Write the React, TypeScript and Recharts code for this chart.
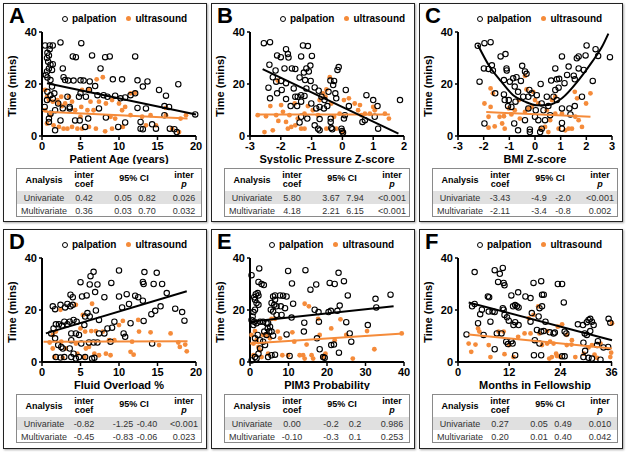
import React from "react";
import { ScatterChart, Scatter, XAxis, YAxis } from "recharts";

const FONT = "Arial, 'Liberation Sans', sans-serif";
const ORANGE = "#F58B3A";

type Pt = { x: number; y: number };
const pts = (arr: number[][]): Pt[] => arr.map(([x, y]) => ({ x, y }));

// ---- A: patient age ----
const agePalpation = [[0.4,34.8],[1.0,34.8],[1.4,34.8],[1.0,33.4],[0.7,32],[0.9,31],[2.4,36],[5.1,35.7],[6.5,31],[4.0,30.6],[4.4,30.3],[8.2,30.3],[8.8,30.6],[12.1,30.6],[7.6,26],[2.7,26],[0.65,30],[0.8,28.6],[1.1,27.4],[1.4,27.6],[0.9,26],[1.3,25.4],[0.65,24.8],[0.5,23.5],[0.7,22.5],[1.1,21.5],[2.8,22.6],[3.0,21.5],[3.4,21.3],[4.1,21.3],[5.0,21.4],[5.4,21.3],[6.2,21],[6.9,19.2],[9.2,21.8],[10.4,21.8],[12.4,21.4],[13.7,21],[13.1,19],[15.2,17.7],[17.7,19.9],[16.1,15.5],[12.4,10.8],[13.5,10.6],[15.9,11.5],[16.5,11.2],[12.8,5.4],[12.8,2.8],[13.1,2.6],[14.3,4.5],[14.8,2.8],[16.6,2.8],[17.2,2.6],[17.5,1.5],[19.9,8.3],[15.9,8],[10.8,5.2],[9.9,3.5],[5.6,3.5],[4.3,6],[4.9,6],[6.0,6.7],[0.9,6.7],[0.35,11.2],[0.65,13.8],[1.4,14.4],[1.7,2.2],[2.1,12.5],[3.3,15.1],[3.6,10.6],[4.8,15.1],[5.0,16.4],[5.7,15.1],[6.1,17.7],[7.2,15.7],[8.0,15.7],[8.5,15.1],[7.4,10.6],[8.3,7.1],[9.5,15.5],[10.2,14.5],[10.8,14.8],[11.5,15.7],[12.1,16.4],[1.3,19],[0.7,17],[1.1,15.7],[1.6,16.4],[2.4,6],[2.7,10.6],[1.7,9.9],[1.1,8.6],[0.9,5.4],[3.6,11.2]];
const ageUltrasound = [[0.4,17.7],[0.65,15.1],[0.9,13.8],[1.4,13.2],[2.0,13.8],[2.2,12.5],[2.6,11.5],[3.0,12.5],[3.9,13.2],[5.2,17.7],[6.1,17.9],[7.1,21.8],[7.9,22.6],[6.3,13.2],[7.4,13.2],[8.3,12.5],[9.1,13.8],[10.0,12.5],[10.8,11.2],[11.5,16.4],[12.1,16.6],[4.3,9.9],[5.1,11.2],[5.9,9.9],[6.7,9.9],[8.9,7.4],[9.5,6.7],[10.4,9.9],[5.0,7.4],[0.65,4.8],[1.5,4.1],[2.2,3.5],[2.8,2.8],[3.3,2.8],[3.9,3.5],[4.6,2.8],[5.2,2.8],[6.1,3.5],[7.0,2.8],[8.2,1.8],[9.1,2.8],[10.5,3.5],[13.5,4.1],[14.8,4.1],[16.9,2.8],[17.8,1.5],[18.7,8.0],[18.0,6.7],[16.1,8.0],[16.1,10.8],[13.0,7.4],[14.1,8.0],[0.4,9.9],[1.1,8.0],[2.5,15.1],[3.5,15.1],[11.5,8.0]];
const ageFitPalpation = [[0.65,20.3],[20,8.3]];
const ageFitUltrasound = [[0.5,9.3],[18.9,6.7]];
const ageStats = [["Univariate","0.42","0.05","0.82","0.026"],["Multivariate","0.36","0.03","0.70","0.032"]];

// ---- B: systolic pressure z-score ----
const sbpPalpation = [[-2.55,35.7],[-2.35,36.1],[-2.12,31],[-2.0,30.3],[-1.83,33.4],[-1.77,31.5],[-1.75,30.2],[-1.88,26],[-1.64,26],[-1.53,25.8],[-1.28,34.8],[-1.12,34.6],[-1.34,30.6],[-0.99,30.8],[-1.17,26],[-1.04,27.1],[-1.25,24.4],[-1.39,22.5],[-1.21,21.5],[-1.03,21.2],[-1.09,24.8],[-2.37,27.4],[-2.4,18.6],[-2.35,14.5],[-2.17,25.2],[-2.26,22.6],[-2.15,20.9],[-1.99,21.2],[-1.83,20.3],[-1.97,17.7],[-2.12,16.4],[-1.58,18.3],[-1.53,15.1],[-1.45,15.1],[-1.34,15.7],[-1.23,15.4],[-1.83,14.2],[-1.68,11.5],[-1.47,11.5],[-1.34,13.2],[-1.17,18.3],[-0.9,18.7],[-0.77,17.4],[-0.68,15.1],[-0.58,13.8],[-0.39,21.3],[-0.27,21.2],[-0.3,19.6],[-0.16,25.4],[-0.12,26.5],[-0.45,17],[-0.23,16.4],[-0.2,14.5],[-1.01,12.5],[-0.85,10.6],[-0.74,11.2],[-0.6,10.6],[-0.49,11.5],[-1.34,7.4],[-1.14,6.7],[-1.39,5.2],[-0.74,6.5],[-0.38,6.7],[-0.38,5.4],[-0.36,3.1],[-0.33,2.6],[-0.9,4.1],[-0.79,2.8],[-0.74,2.2],[-0.03,2.8],[-0.01,1.9],[0.02,1.3],[0.05,6.7],[0.08,8],[0.11,17.7],[0.21,11.5],[0.78,15.7],[1.0,13.8],[1.05,7.4],[1.14,11.5],[1.16,2.8],[0.65,5.4],[0.73,6.1],[1.87,13.8]];
const sbpUltrasound = [[-2.53,1.5],[-2.26,2.2],[-2.48,7.6],[-2.75,8],[-2.34,11.5],[-2.15,8],[-2.08,5.8],[-1.99,11.9],[-1.93,9.3],[-1.83,5.4],[-1.77,2.8],[-1.66,3.5],[-1.72,8],[-1.55,12.5],[-1.45,6.7],[-1.34,2.8],[-1.23,2.8],[-1.53,4.1],[-1.12,11.5],[-1.23,8.6],[-0.74,13.8],[-0.63,16.4],[-0.52,17.9],[-0.41,22.6],[-0.55,15.1],[-0.79,8],[-0.52,2.8],[-0.27,7.4],[-0.2,2.8],[-0.09,8.6],[0.05,13.8],[0.21,14.5],[0.4,12.5],[0.51,9.9],[0.62,8],[0.73,8.6],[0.89,8.6],[1.0,11.2],[1.05,9.9],[0.57,11.9],[1.38,8.6],[1.51,6.7],[0.02,1.5],[-0.36,12.5],[-0.96,9.9],[-2.1,21.3]];
const sbpFitPalpation = [[-2.59,25.7],[1.82,0.9]];
const sbpFitUltrasound = [[-2.75,8.3],[1.54,8.3]];
const sbpStats = [["Univariate","5.80","3.67","7.94","<0.001"],["Multivariate","4.18","2.21","6.15","<0.001"]];

// ---- C: BMI z-score ----
const bmiPalpation = [[-2.23,34.7],[-1.97,35.7],[-1.73,36.1],[-2.16,20.9],[-1.99,26],[-1.81,25.8],[-1.68,27.2],[-1.64,25.2],[-1.34,30.6],[-1.15,31.5],[-1.55,16.4],[-1.11,26],[-1.1,25.2],[-1.21,21.5],[-1.21,16],[-1.18,13.8],[-1.05,11.5],[-0.92,11.2],[-0.98,20.9],[-0.85,22.2],[-0.72,22.6],[-0.55,21.2],[-0.5,27],[-0.39,24.8],[-0.33,23.9],[-0.79,19],[-0.66,17],[-0.46,15.1],[-0.26,15.1],[-0.13,16.4],[-0.22,17.7],[-1.02,13.8],[-0.76,13.2],[-0.81,4.8],[-0.66,2.2],[-0.39,6.1],[-0.26,10.6],[-0.2,1.5],[0,7.4],[0.03,9.9],[0.07,15.7],[0.26,12.5],[0.22,20],[0.46,15.1],[0.52,11.5],[0.63,21.3],[0.79,26],[0.85,21.8],[0.94,22],[0.92,18.6],[0.79,17.7],[0.72,15.1],[0.85,13.8],[1.05,30.6],[1.31,26.7],[1.25,23.5],[1.15,20.3],[1.51,23.2],[1.55,21.8],[1.63,29.9],[1.7,30.6],[1.7,26],[1.97,31],[2.01,34.8],[1.9,25.4],[2.25,21.2],[2.36,33.4],[2.46,30.8],[2.92,30.3],[1.83,15.1],[1.55,11.5],[1.34,10.6],[1.38,8.3],[1.05,10.6],[1.05,2.8],[1.05,5],[0.39,6.1],[0.26,2.8],[0.2,1.5],[0.13,6.1],[-0.2,2.5],[0.59,8],[0.33,9.9],[-1.97,4.8]];
const bmiUltrasound = [[-1.73,18.3],[-1.64,16.4],[-1.97,12.5],[-1.73,11.2],[-1.81,7.4],[-1.38,7.4],[-1.21,7.6],[-1.81,3.2],[-1.57,3.7],[-1.28,4.8],[-1.18,2.8],[-0.92,8.3],[-0.79,9.9],[-0.63,13.8],[-0.39,23.1],[-0.33,17.9],[-0.59,6.7],[-0.39,9.3],[-0.13,11.2],[-0.07,17],[0,13.8],[0.13,12.5],[0.22,2.8],[0.39,3.5],[0.52,1.5],[0.66,13.8],[0.79,15.1],[0.79,8.6],[0.92,2.8],[1.05,8.6],[1.18,2.2],[1.31,2.8],[1.44,2.8],[1.55,17],[1.64,14.5],[1.57,7.4],[1.7,6.1],[1.83,3.5],[1.99,12.5],[2.16,16.4],[0.59,6.1],[0.46,9.9],[-0.26,10.6],[-1.02,10.6]];
const bmiFitPalpation = [[-2.23,35.1],[-1.77,26.7],[-1.31,20.9],[-0.85,15.7],[-0.39,13.2],[0.07,11.8],[0.52,11.9],[1.05,14.5],[1.7,21.5],[2.23,28.6],[2.62,34.5],[2.86,39.4]];
const bmiFitUltrasound = [[-1.9,9.2],[2.16,7.4]];
const bmiStats = [["Univariate","-3.43","-4.9","-2.0","<0.001"],["Multivariate","-2.11","-3.4","-0.8","0.002"]];

// ---- D: fluid overload ----
const foPalpation = [[1.4,21.4],[1.7,20.3],[2.4,22],[3.0,21],[3.7,21.4],[3.3,22.3],[4.0,22],[3.7,25.9],[4.0,24.9],[5.0,30.7],[5.2,25.2],[5.8,25.6],[6.3,33],[6.7,34.7],[6.2,29.8],[7.2,29.8],[6.9,26.9],[7.0,19.8],[8.1,24.9],[9.0,30.4],[10.0,35.2],[10.0,25.2],[11.0,26.1],[12.1,25.5],[12.5,24.9],[13.1,23.6],[11.3,22.3],[10.4,21],[13.3,34.6],[13.1,30.8],[13.2,30],[14.9,34.3],[14.5,30],[15.6,30],[16.2,26.5],[15.4,21.4],[14.7,19.7],[14.2,18.4],[17.3,20.5],[18.2,19.2],[18.5,15.9],[13.2,15.8],[11.5,14.9],[10.6,11],[10.8,9.7],[14.3,7.1],[9.4,15.5],[9.1,13.2],[8.5,12.9],[8.1,11],[7.4,11],[7.2,7.5],[6.7,7.5],[6.1,7.5],[8.9,7.8],[5.9,18.8],[5.6,17.5],[6.2,17.5],[7.4,16.2],[5.5,14.2],[4.5,15.5],[4.1,16.2],[3.6,15.5],[3.3,14.5],[2.9,15.5],[2.6,14],[2.2,14.5],[1.8,14.5],[1.5,12.9],[1.2,11],[1.7,9.1],[2.1,6.5],[2.5,5.8],[2.7,5.2],[1.8,1.9],[2.4,1.7],[2.9,1.9],[3.8,1.9],[4.1,3.2],[4.4,1.3],[4.8,1.9],[5.6,1.9],[6.5,1.3],[6.8,1.6],[3.6,5.2],[3.8,8.4],[4.4,11],[4.8,10.4],[3.8,11],[5.1,7.1]];
const foUltrasound = [[1.4,10.4],[1.8,11.7],[2.4,20.1],[4.4,22],[5.3,18.1],[6.5,22.4],[5.0,12.9],[5.6,11.7],[6.4,11.9],[7.0,11.9],[7.9,11.7],[1.4,5.2],[1.0,7.5],[2.5,7.8],[3.1,5.2],[4.4,7.1],[5.7,5.2],[6.1,5.8],[6.8,3.2],[7.4,2.6],[8.3,3.2],[8.9,2.6],[1.6,1.9],[2.7,1.6],[4.6,3.2],[5.5,1.9],[10.0,14.2],[10.5,15.8],[11.7,7.8],[11.5,3.9],[11.9,2.8],[12.5,16.2],[12.6,11.7],[14.1,11.4],[15.2,6.5],[16.7,11],[17.7,7.5],[17.9,5.8],[18.6,6.7],[18.8,4.1],[8.7,8.4],[9.4,8.4]];
const foFitPalpation = [[0.5,11],[18.8,27.2]];
const foFitUltrasound = [[0.2,7.8],[18.9,8.0]];
const foStats = [["Univariate","-0.82","-1.25","-0.40","<0.001"],["Multivariate","-0.45","-0.83","-0.06","0.023"]];

// ---- E: PIM3 probability ----
const pimPalpation = [[0.4,33.4],[2.4,36],[2.2,30.8],[3.0,30],[3.6,29.6],[1.1,24.9],[1.5,26.1],[2.0,26.5],[2.2,25.6],[1.3,23.9],[1.7,22.7],[2.2,22],[1.3,20.1],[0.9,19.2],[0.7,17.5],[0.4,16.2],[1.1,15.5],[1.7,14.9],[2.6,15.5],[3.4,15.5],[4.3,14.9],[0.9,14.2],[4.6,12.9],[3.7,11.7],[5.0,11.7],[4.3,10.4],[5.6,11.7],[6.0,25.2],[6.5,25.6],[7.8,25.6],[8.6,25.5],[9.5,25.2],[6.3,22],[6.9,21.4],[8.0,21.4],[9.1,20.7],[6.5,23.9],[5.6,22.7],[5.4,20.1],[6.0,19.4],[6.9,18.1],[8.2,18.1],[4.7,14.9],[5.2,13.6],[6.0,10.1],[3.4,7.8],[2.6,5.2],[2.2,3.2],[1.3,1.9],[0.4,0.6],[1.7,1.3],[1.3,9.1],[2.0,10.4],[2.6,8.4],[3.9,6.5],[4.7,1.9],[5.6,2.6],[6.5,2.8],[9.9,35],[10.9,30.2],[11.2,22.4],[10.8,17.1],[9.5,10.6],[10.3,2.3],[14.4,35.3],[15.7,27.8],[17.2,29.8],[16.8,20.1],[17.8,19.2],[14.1,15.1],[14.0,11.7],[17.9,15.5],[17.4,9.1],[18.1,4.9],[19.0,1.9],[19.4,1.6],[20.7,30.4],[22.0,30],[23.0,34.3],[24.4,31.1],[25.4,25.6],[23.3,21.7],[21.0,19.7],[20.4,19.2],[22.7,19.7],[25.0,15.3],[21.1,6.5],[21.8,6.7],[23.1,3.6],[25.9,11],[26.3,7.8],[30.6,14.2],[32.6,24.3],[32.8,21],[36.5,25.9]];
const pimUltrasound = [[0.4,10.4],[0.9,7.1],[1.3,11.9],[1.7,8.4],[2.2,5.8],[2.6,4.5],[3.0,1.9],[0.9,2.6],[3.4,10.4],[4.3,10.4],[5.2,9.1],[5.6,16.6],[6.5,16.6],[7.2,11.7],[7.8,9.1],[4.7,3.2],[8.4,2.6],[9.9,2.6],[11.0,11.4],[11.5,7.8],[12.9,2.6],[13.8,2.6],[14.2,1.3],[14.2,22.4],[15.3,21.4],[14.7,6.7],[16.0,2.6],[16.4,1.3],[17.7,16.6],[18.1,10.4],[19.0,1.9],[19.6,3.2],[21.1,12.9],[22.0,8.4],[23.5,16.4],[25.0,10.4],[26.7,1.3],[30.4,11.9],[32.3,4.9],[39.4,11]];
const pimFitPalpation = [[0,15.5],[37.3,21.4]];
const pimFitUltrasound = [[0,7.1],[39.8,11]];
const pimStats = [["Univariate","0.00","-0.2","0.2","0.986"],["Multivariate","-0.10","-0.3","0.1","0.253"]];

// ---- F: months in fellowship ----
const fellowPalpation = [[2.0,10.6],[3.9,34.6],[3.3,21.4],[3.9,22.3],[4.7,14.9],[5.2,18.4],[6.0,10.4],[5.6,20.1],[7.0,25.2],[7.3,24.9],[7.2,19.4],[7.6,15.5],[8.1,19.4],[8.6,19.2],[8.6,4.9],[8.6,35.3],[9.8,33.9],[10.5,36.2],[9.4,30.8],[10.7,30.4],[10.9,29.5],[9.1,11],[10.2,11],[10.7,20.1],[10.5,20.7],[10.9,18.1],[11.5,17.2],[11.9,15.9],[12.5,25.6],[12.9,21.4],[13.4,21.9],[13.8,21.4],[14.2,21],[13.4,15.3],[13.0,14.2],[14.2,14.2],[14.1,26.8],[12.5,8],[12.8,7.1],[13.4,2.6],[11.3,7.8],[11.7,6.9],[15.8,25.2],[17.0,24.6],[17.7,30.4],[17.0,15.5],[17.3,18.8],[18.0,8.4],[17.8,2.6],[18.9,17.5],[18.5,12.3],[19.5,31.1],[19.7,25.9],[20.1,25.9],[19.7,21.4],[19.1,20.7],[19.1,7.1],[19.5,2.6],[19.5,11.7],[20.1,11.9],[20.5,15.5],[21.5,11.4],[22.4,11],[22.7,11.3],[23.4,30],[24.4,30],[24.8,22.9],[25.0,11.7],[25.4,11],[24.4,2.2],[25.0,2.2],[28.1,14.5],[29.3,14.2],[30.2,15.3],[30.6,16.2],[31.0,16.6],[31.4,15.5],[31.8,14.2],[29.7,11],[30.2,10.4],[29.4,7.4],[29.8,4.3],[29.4,1.9],[30.6,1.6],[31.4,1.3],[31.0,11.9],[32.6,6.5],[32.8,8],[33.4,0.9],[34.1,5.6],[35.2,5.8],[35.3,16.6],[35.7,15.1]];
const fellowUltrasound = [[2.5,7.1],[3.1,3.9],[4.1,6.7],[4.7,12.9],[5.0,11.7],[7.2,6.5],[7.6,1.9],[9.5,11.7],[10.7,11.7],[10.9,3.0],[12.0,6.5],[13.0,1.9],[14.1,9.7],[15.6,11],[16.6,16.8],[17.0,11],[17.7,18.1],[18.8,21.4],[19.1,11],[19.7,6.5],[20.9,7.1],[20.9,11.9],[21.6,7.8],[22.4,7.1],[21.4,1.3],[22.0,1.9],[23.0,3.2],[23.2,2.3],[24.0,1.9],[23.4,13.6],[24.4,14.5],[25.5,10.4],[25.5,6.5],[26.6,6.7],[26.7,8.4],[27.5,1.9],[29.5,3.2],[30.6,5.6],[31.4,6.5],[32.0,2.8],[32.6,1.6],[33.4,7.1],[35.7,1.9],[35.9,3.6],[36.1,14.9]];
const fellowFitPalpation = [[2.5,22.9],[36.1,8.4]];
const fellowFitUltrasound = [[2.5,10.6],[36.1,5.2]];
const fellowStats = [["Univariate","0.27","0.05","0.49","0.010"],["Multivariate","0.20","0.01","0.40","0.042"]];

const yTicks = [0, 20, 40];

type PanelDef = {
  letter: string;
  left: number;
  top: number;
  legendLeft: number;
  xLabel: string;
  domain: [number, number];
  ticks: number[];
  palp: Pt[];
  us: Pt[];
  fitP: Pt[];
  fitU: Pt[];
  curved?: boolean;
  stats: string[][];
};

const panels: PanelDef[] = [
  { letter: "A", left: 3, top: 3, legendLeft: 58, xLabel: "Patient Age (years)", domain: [0, 20], ticks: [0, 5, 10, 15, 20], palp: pts(agePalpation), us: pts(ageUltrasound), fitP: pts(ageFitPalpation), fitU: pts(ageFitUltrasound), stats: ageStats },
  { letter: "B", left: 211, top: 3, legendLeft: 68, xLabel: "Systolic Pressure Z-score", domain: [-3, 2], ticks: [-3, -2, -1, 0, 1, 2], palp: pts(sbpPalpation), us: pts(sbpUltrasound), fitP: pts(sbpFitPalpation), fitU: pts(sbpFitUltrasound), stats: sbpStats },
  { letter: "C", left: 419, top: 3, legendLeft: 57, xLabel: "BMI Z-score", domain: [-3, 3], ticks: [-3, -2, -1, 0, 1, 2, 3], palp: pts(bmiPalpation), us: pts(bmiUltrasound), fitP: pts(bmiFitPalpation), fitU: pts(bmiFitUltrasound), curved: true, stats: bmiStats },
  { letter: "D", left: 3, top: 229, legendLeft: 58, xLabel: "Fluid Overload %", domain: [0, 20], ticks: [0, 5, 10, 15, 20], palp: pts(foPalpation), us: pts(foUltrasound), fitP: pts(foFitPalpation), fitU: pts(foFitUltrasound), stats: foStats },
  { letter: "E", left: 211, top: 229, legendLeft: 57, xLabel: "PIM3 Probability", domain: [0, 40], ticks: [0, 10, 20, 30, 40], palp: pts(pimPalpation), us: pts(pimUltrasound), fitP: pts(pimFitPalpation), fitU: pts(pimFitUltrasound), stats: pimStats },
  { letter: "F", left: 419, top: 229, legendLeft: 57, xLabel: "Months in Fellowship", domain: [0, 36], ticks: [0, 12, 24, 36], palp: pts(fellowPalpation), us: pts(fellowUltrasound), fitP: pts(fellowFitPalpation), fitU: pts(fellowFitUltrasound), stats: fellowStats },
];

const HollowDot = (props: any) => (
  <circle cx={props.cx} cy={props.cy} r={2.7} fill="none" stroke="#000" strokeWidth={1.1} />
);
const OrangeDot = (props: any) => (
  <circle cx={props.cx} cy={props.cy} r={2.4} fill={ORANGE} />
);
const NoDot = () => <g />;

const tickStyle = { fill: "#000", fontSize: 11, fontWeight: "bold", fontFamily: FONT };

// column centres inside the stats table
const colX = [27, 67, 106, 130, 167];

function StatsTable({ stats }: { stats: string[][] }) {
  const cell = (x: number, y: number, content: React.ReactNode, bold = false) => (
    <div
      style={{
        position: "absolute",
        left: x,
        top: y,
        transform: "translate(-50%, -50%)",
        whiteSpace: "nowrap",
        fontSize: 9,
        fontWeight: bold ? "bold" : "normal",
        color: bold ? "#000" : "#333",
        textAlign: "center",
        lineHeight: "9px",
      }}
    >
      {content}
    </div>
  );
  return (
    <div
      style={{
        position: "absolute",
        left: 12,
        top: 164,
        width: 186,
        height: 49,
        border: "1px solid #8a8a8a",
        boxSizing: "border-box",
        fontFamily: FONT,
      }}
    >
      <div style={{ position: "absolute", left: 0, top: 22, width: "100%", height: 13, background: "#e0e0e0" }} />
      {cell(colX[0], 11, "Analysis", true)}
      {cell(colX[1], 11, <>inter<br />coef</>, true)}
      {cell(117, 9, "95% CI", true)}
      {cell(colX[4], 11, <>inter<br /><i>p</i></>, true)}
      {stats.map((row, r) =>
        row.map((v, c) => (
          <React.Fragment key={`${r}-${c}`}>{cell(colX[c], 28.5 + r * 13, v)}</React.Fragment>
        ))
      )}
    </div>
  );
}

function Panel({ d }: { d: PanelDef }) {
  return (
    <div
      style={{
        position: "absolute",
        left: d.left,
        top: d.top,
        width: 204,
        height: d.top > 100 ? 220 : 219,
        border: "1.5px solid #222",
        boxSizing: "border-box",
        boxShadow: "1px 1px 2px rgba(0,0,0,0.35)",
        background: "#fff",
        fontFamily: FONT,
      }}
    >
      <div style={{ position: "absolute", left: 5, top: 1, fontSize: 22, fontWeight: "bold", lineHeight: 1 }}>
        {d.letter}
      </div>
      <div
        style={{
          position: "absolute",
          left: d.legendLeft,
          top: 9,
          display: "flex",
          alignItems: "center",
          fontSize: 10,
          fontWeight: "bold",
          whiteSpace: "nowrap",
        }}
      >
        <span style={{ display: "inline-block", width: 4, height: 4, border: "1.1px solid #000", borderRadius: "50%", marginRight: 4 }} />
        <span>palpation</span>
        <span style={{ display: "inline-block", width: 5, height: 5, background: ORANGE, borderRadius: "50%", marginLeft: 10, marginRight: 4 }} />
        <span>ultrasound</span>
      </div>
      <div
        style={{
          position: "absolute",
          left: 8,
          top: 82,
          transform: "translate(-50%, -50%) rotate(-90deg)",
          fontSize: 11,
          fontWeight: "bold",
          whiteSpace: "nowrap",
        }}
      >
        Time (mins)
      </div>
      <div style={{ position: "absolute", left: 0, top: 0 }}>
        <ScatterChart width={200} height={160} margin={{ top: 28, right: 8, bottom: 0, left: 0 }}>
          <XAxis
            type="number"
            dataKey="x"
            domain={d.domain}
            ticks={d.ticks}
            interval={0}
            height={28}
            axisLine={{ stroke: "#000", strokeWidth: 2 }}
            tickLine={{ stroke: "#000", strokeWidth: 1.5 }}
            tickSize={4}
            tickMargin={2}
            tick={tickStyle}
            label={{ value: d.xLabel, position: "insideBottom", offset: 1, fill: "#000", fontSize: 11, fontWeight: "bold", fontFamily: FONT }}
          />
          <YAxis
            type="number"
            dataKey="y"
            domain={[0, 40]}
            ticks={yTicks}
            interval={0}
            width={38}
            axisLine={{ stroke: "#000", strokeWidth: 2 }}
            tickLine={{ stroke: "#000", strokeWidth: 1.5 }}
            tickSize={3}
            tickMargin={2}
            tick={tickStyle}
          />
          <Scatter data={d.us} shape={OrangeDot} isAnimationActive={false} />
          <Scatter data={d.palp} shape={HollowDot} isAnimationActive={false} />
          <Scatter
            data={d.fitU}
            shape={NoDot}
            line={{ stroke: ORANGE, strokeWidth: 2 }}
            isAnimationActive={false}
          />
          <Scatter
            data={d.fitP}
            shape={NoDot}
            line={{ stroke: "#000", strokeWidth: 2 }}
            lineJointType={d.curved ? "monotoneX" : "linear"}
            isAnimationActive={false}
          />
        </ScatterChart>
      </div>
      <StatsTable stats={d.stats} />
    </div>
  );
}

export default function App() {
  return (
    <div style={{ position: "absolute", left: 0, top: 0, width: 626, height: 454, background: "#fff" }}>
      {panels.map((d) => (
        <Panel key={d.letter} d={d} />
      ))}
    </div>
  );
}
